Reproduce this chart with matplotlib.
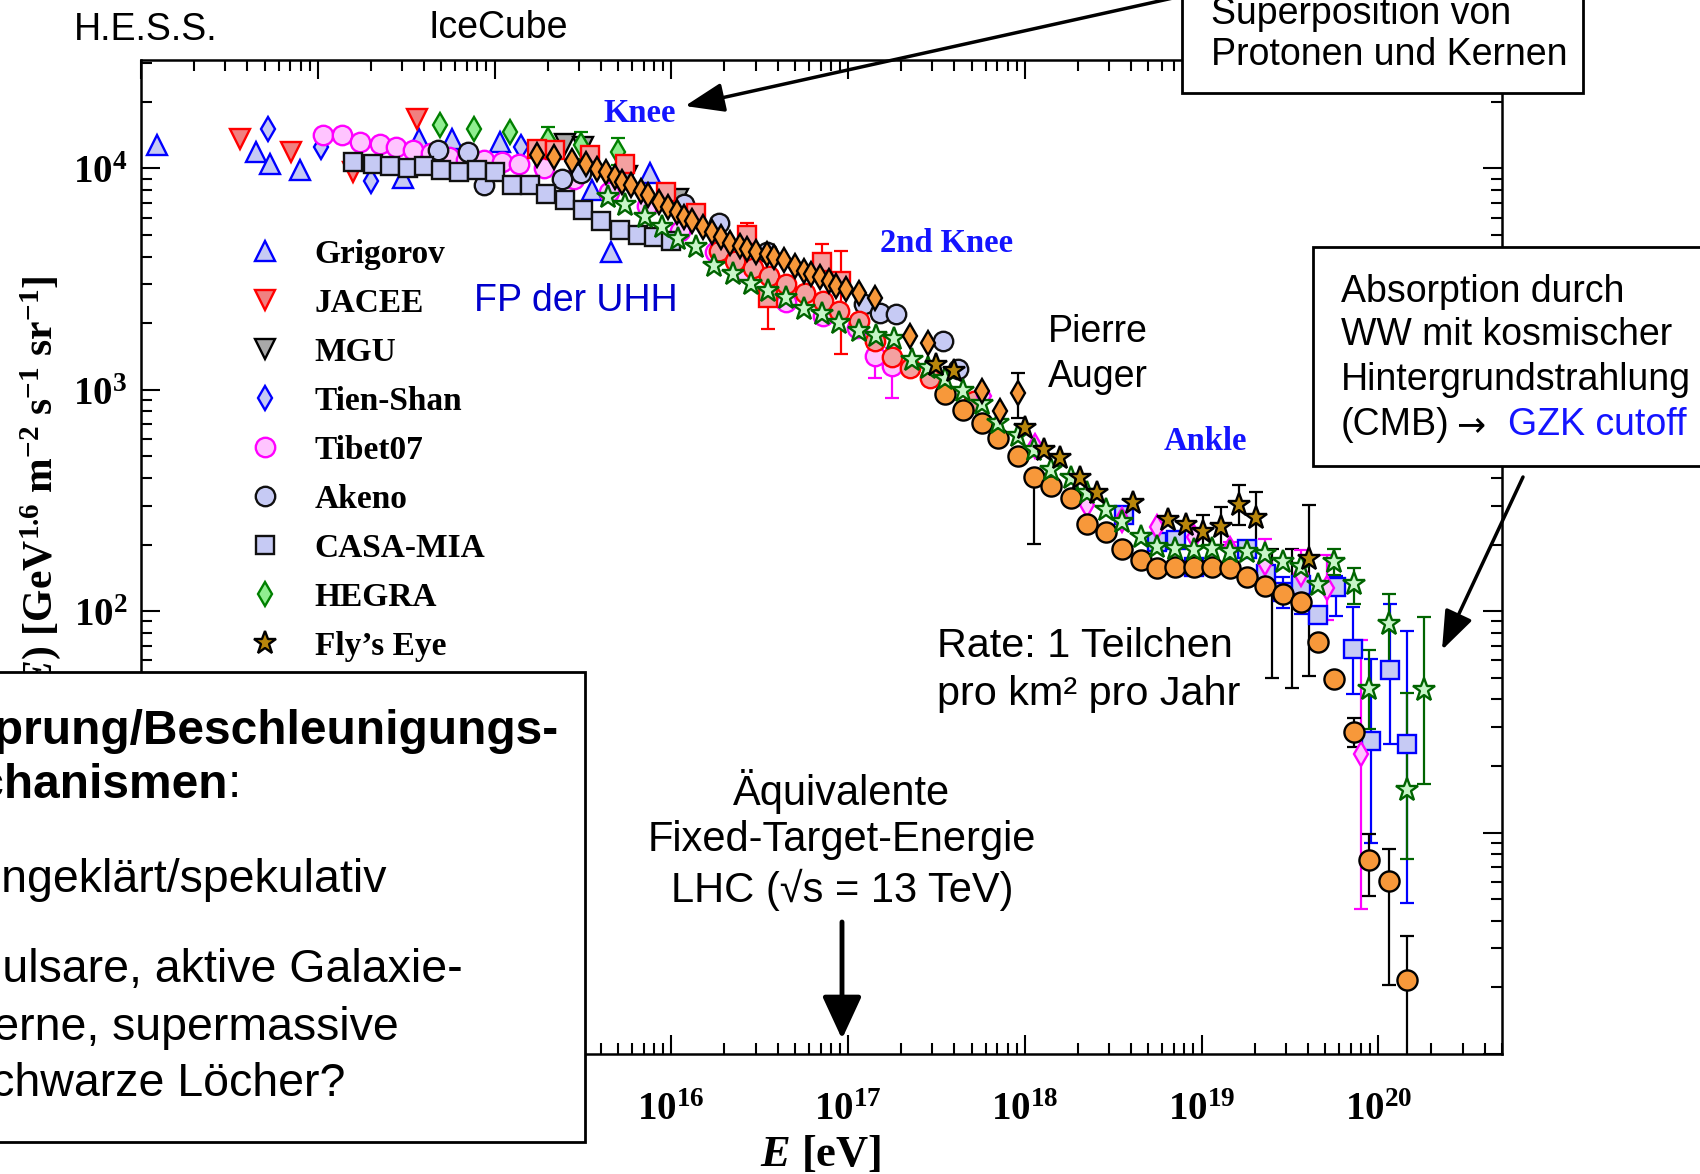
import numpy as np
import matplotlib
matplotlib.use("Agg")
import matplotlib.pyplot as plt
from matplotlib.patches import Rectangle, FancyArrowPatch
from matplotlib.ticker import LogLocator, FuncFormatter, NullFormatter

plt.rcParams['mathtext.fontset'] = 'custom'
plt.rcParams['mathtext.rm'] = 'Liberation Serif:bold'
plt.rcParams['mathtext.bf'] = 'Liberation Serif:bold'
plt.rcParams['mathtext.it'] = 'Liberation Serif:italic:bold'

SANS = ['Liberation Sans', 'DejaVu Sans']
SERIF = ['Liberation Serif', 'DejaVu Serif']

# ---------------- data (log10 E[eV], E^2.6 F(E) [GeV^1.6 m^-2 s^-1 sr^-1]) ----------------
grigorov_logE = [13.09, 13.65, 13.73, 13.90, 14.48, 14.57, 14.76, 15.03, 15.55, 15.66, 15.88]
grigorov_flux = [12700, 11900, 10500, 9800, 9100, 13600, 13600, 13200, 8000, 4200, 9500]

jacee_logE = [13.56, 13.85, 14.20, 14.56]
jacee_flux = [13600, 11900, 9600, 16800]

mgu_logE = [15.40, 15.50, 15.75, 16.04]
mgu_flux = [12900, 12500, 9200, 7300]

tienshan_logE = [13.72, 14.02, 14.30, 15.15]
tienshan_flux = [15100, 12500, 8800, 12500]

tibet_logE = [14.03, 14.135, 14.24, 14.35, 14.44, 14.54, 14.64, 14.74, 14.84, 14.94, 15.04,
              15.14, 15.28, 15.45, 15.65, 15.86, 16.05, 16.25, 16.42, 16.65, 16.86, 17.05,
              17.15, 17.25]
tibet_flux = [14100, 14100, 13200, 12900, 12500, 12100, 11700, 11300, 10900, 10900, 10700,
              10500, 10000, 9000, 7800, 6800, 5200, 4200, 3400, 2500, 2150, 1900, 1420, 1280]

akeno_logE = [14.68, 14.85, 14.94, 15.38, 15.49, 16.07, 16.27, 16.54, 17.09, 17.18, 17.27,
              17.54, 17.62]
akeno_flux = [12100, 11900, 8400, 9000, 9500, 6900, 5700, 4200, 2440, 2230, 2200, 1660, 1240]

casa_logE = [14.20, 14.31, 14.41, 14.51, 14.60, 14.70, 14.80, 14.90, 15.00, 15.10, 15.20,
             15.29, 15.40, 15.50, 15.60, 15.71, 15.81, 15.90, 16.00]
casa_flux = [10700, 10500, 10300, 10100, 10300, 9800, 9600, 9800, 9600, 8400, 8400, 7700,
             7200, 6500, 5800, 5300, 5000, 4900, 4700]

hegra_logE = [14.69, 14.885, 15.09, 15.30, 15.49, 15.70]
hegra_flux = [15700, 15100, 14600, 13400, 12700, 11900]

flyseye_logE = [17.50, 17.60, 18.00, 18.11, 18.20, 18.31, 18.41, 18.61, 18.81, 18.91, 19.01,
                19.11, 19.21, 19.31, 19.61]
flyseye_flux = [1300, 1220, 673, 537, 492, 399, 341, 308, 258, 245, 229, 241, 302, 265, 173]

kascade_logE = [15.24, 15.345, 15.54, 15.74, 15.97, 16.14, 16.43, 16.545, 16.85, 16.96]
kascade_flux = [12300, 12100, 11500, 10500, 7800, 6300, 5000, 2600, 3800, 3100]

kgrande_logE = [16.27, 16.36, 16.46, 16.555, 16.65, 16.755, 16.86, 16.95, 17.06, 17.15,
                17.25, 17.35, 17.465, 17.71]
kgrande_flux = [4250, 3830, 3570, 3270, 3000, 2750, 2520, 2270, 2050, 1660, 1410, 1260, 1130,
                890]

icetop_logE = [15.24, 15.335, 15.44, 15.52, 15.58, 15.63, 15.68, 15.72, 15.77, 15.83, 15.87,
               15.93, 15.98, 16.03, 16.07, 16.12, 16.18, 16.23, 16.28, 16.33, 16.39, 16.43,
               16.48, 16.54, 16.58, 16.64, 16.70, 16.75, 16.79, 16.84, 16.89, 16.93, 16.99,
               17.06, 17.15, 17.35, 17.45, 17.76, 17.86, 17.96]
icetop_flux = [11460, 11250, 10860, 10500, 9950, 9620, 9140, 8670, 8380, 7940, 7550, 7050,
               6680, 6340, 6030, 5820, 5420, 5150, 4890, 4630, 4480, 4330, 4180, 4110, 3970,
               3840, 3640, 3450, 3330, 3220, 3110, 2950, 2850, 2750, 2610, 1750, 1630, 986,
               800, 968]

hires1_logE = [17.77, 18.06, 18.35, 18.55, 18.75, 18.96, 19.16, 19.36, 19.56, 19.71, 19.90]
hires1_flux = [938, 556, 302, 257, 241, 217, 191, 166, 148, 127, 22.6]

hires2_logE = [18.56, 18.75, 18.854, 18.958, 19.26, 19.364, 19.459, 19.563, 19.658, 19.762,
               19.856, 19.96, 20.064, 20.16]
hires2_flux = [272, 206, 210, 158, 192, 148, 122, 131, 96, 129, 67.6, 26, 54, 25.1]

ta_logE = [15.64, 15.74, 15.85, 15.95, 16.04, 16.14, 16.24, 16.35, 16.45, 16.55, 16.65, 16.75,
           16.85, 16.95, 17.06, 17.16, 17.26, 17.36, 17.45, 17.55, 17.65, 17.76, 17.85, 17.96,
           18.05, 18.15, 18.26, 18.35, 18.46, 18.55, 18.66, 18.75, 18.85, 18.96, 19.06, 19.16,
           19.26, 19.36, 19.46, 19.56, 19.66, 19.75, 19.86, 19.95, 20.06, 20.16, 20.26]
ta_flux = [7410, 6810, 6030, 5420, 4810, 4410, 3640, 3330, 3010, 2800, 2610, 2310, 2200, 2010,
           1850, 1750, 1690, 1370, 1250, 1120, 986, 859, 708, 617, 537, 436, 399, 341, 287,
           254, 217, 196, 192, 189, 192, 186, 186, 181, 167, 159, 131, 167, 133, 44.7, 88,
           15.5, 43.9]

auger_logE = [17.55, 17.65, 17.76, 17.85, 17.96, 18.05, 18.15, 18.26, 18.35, 18.46, 18.55,
              18.66, 18.75, 18.85, 18.96, 19.06, 19.16, 19.26, 19.36, 19.46, 19.56, 19.66,
              19.75, 19.86, 19.95, 20.06, 20.16]
auger_flux = [953, 815, 708, 605, 500, 406, 366, 324, 249, 229, 192, 170, 156, 159, 159, 159,
              156, 143, 130, 120, 110, 72.6, 49.4, 28.6, 7.55, 6.03, 2.16]

# error bars: log10 E, lower end, upper end
tibet_err = ([17.15, 17.25], [1130, 920], [1720, 1550])
hegra_err = ([15.30, 15.49, 15.70], [11650, 11050, 10350], [15400, 14600, 13700])
kascade_err = ([16.43, 16.545, 16.85, 16.96], [4300, 1880, 3100, 1450], [5700, 3200, 4560, 4250])
icetop_err = ([17.96], [747], [1190])
flyseye_err = ([19.01, 19.11, 19.21, 19.31, 19.40, 19.51, 19.61],
               [195, 200, 245, 186, 50, 45, 51], [272, 297, 372, 347, 192, 192, 302])
hires1_err = ([19.16, 19.36, 19.56, 19.71, 19.90], [165, 140, 125, 91, 4.5], [206, 213, 189, 180, 74])
hires2_err = ([19.459, 19.563, 19.762, 19.856, 19.96, 20.064, 20.16],
              [103, 97.5, 95.5, 42.4, 9.0, 25.1, 4.8], [143, 141, 145, 105, 61, 108, 81])
ta_err = ([19.75, 19.86, 19.95, 20.06, 20.16, 20.26], [146, 108, 29.4, 56, 7.6, 16.6],
          [192, 156, 66.5, 120, 42.7, 94.2])
auger_err = ([18.05, 19.86, 19.95, 20.06, 20.16], [202, 24.3, 5.16, 2.05, 0.5],
             [436, 33.1, 9.82, 8.39, 3.4])

legend_labels = ['Grigorov', 'JACEE', 'MGU', 'Tien-Shan', 'Tibet07', 'Akeno', 'CASA-MIA',
                 'HEGRA', 'Fly\u2019s Eye']

# ---------------- figure ----------------
W, H = 1700, 1174
fig = plt.figure(figsize=(W / 100, H / 100), dpi=100)
fig.patch.set_facecolor('white')


def fx(x):
    return x / W


def fy(y):
    return 1 - y / H


ax = fig.add_axes([fx(141), fy(1054), (1502 - 141) / W, (1054 - 60) / H])
ax.set_xscale('log')
ax.set_yscale('log')
ax.set_xlim(1e13, 10 ** 20.7)
ax.set_ylim(1, 10 ** 4.49)

BLUEFILL = '#C6CAF4'
PINK = '#F4A0A0'
ORANGE = '#F7983A'

series = [
    ('Grigorov', grigorov_logE, grigorov_flux, '^', 15, BLUEFILL, '#0000FF', 3),
    ('JACEE', jacee_logE, jacee_flux, 'v', 15, '#F08080', '#FF0000', 3),
    ('MGU', mgu_logE, mgu_flux, 'v', 15, '#A8A8A8', '#000000', 3),
    ('Tien-Shan', tienshan_logE, tienshan_flux, 'd', 12, BLUEFILL, '#0000FF', 3),
    ('Tibet07', tibet_logE, tibet_flux, 'o', 14, '#FFC4FF', '#FF00FF', 3),
    ('Akeno', akeno_logE, akeno_flux, 'o', 14, BLUEFILL, '#101010', 4),
    ('CASA-MIA', casa_logE, casa_flux, 's', 13, BLUEFILL, '#101010', 4),
    ('HEGRA', hegra_logE, hegra_flux, 'd', 12, '#90EE90', '#008000', 3),
    ('Fly\u2019s Eye', flyseye_logE, flyseye_flux, '*', 17, '#B8860B', '#000000', 9),
    ('Kascade', kascade_logE, kascade_flux, 's', 13, PINK, '#FF0000', 4),
    ('Kascade Grande', kgrande_logE, kgrande_flux, 'o', 14, PINK, '#FF0000', 4),
    ('HiRes 2', hires2_logE, hires2_flux, 's', 13, BLUEFILL, '#0000FF', 5),
    ('HiRes 1', hires1_logE, hires1_flux, 'd', 12, '#FFC4FF', '#FF00FF', 6),
    ('Auger', auger_logE, auger_flux, 'o', 14.5, ORANGE, '#000000', 6),
    ('Telescope Array', ta_logE, ta_flux, '*', 17, '#C8F5C8', '#006400', 7),
    ('IceTop', icetop_logE, icetop_flux, 'd', 12, ORANGE, '#000000', 8),
]

errs = [
    (tibet_err, '#FF00FF'), (hegra_err, '#008000'), (kascade_err, '#FF0000'),
    (icetop_err, '#000000'), (flyseye_err, '#000000'), (hires1_err, '#FF00FF'),
    (hires2_err, '#0000FF'), (ta_err, '#006400'), (auger_err, '#000000'),
]
for (le, lo, hi), col in errs:
    le = np.array(le)
    lo = np.array(lo, dtype=float)
    hi = np.array(hi, dtype=float)
    ax.errorbar(10 ** le, lo, yerr=[np.zeros_like(lo), hi - lo], fmt='none', ecolor=col,
                elinewidth=1.6, capsize=5, capthick=1.6, zorder=2)

handles = {}
for name, le, fl, mk, ms, fc, ec, z in series:
    ln, = ax.plot(10 ** np.array(le), fl, ls='none', marker=mk, ms=ms, mfc=fc, mec=ec,
                  mew=1.7, zorder=z)
    handles[name] = ln

# axes styling
for sp in ax.spines.values():
    sp.set_linewidth(1.8)
ax.xaxis.set_major_locator(LogLocator(base=10, numticks=30))
ax.xaxis.set_minor_locator(LogLocator(base=10, subs=np.arange(2, 10), numticks=30))
ax.yaxis.set_major_locator(LogLocator(base=10, numticks=30))
ax.yaxis.set_minor_locator(LogLocator(base=10, subs=np.arange(2, 10), numticks=30))
fmt = FuncFormatter(lambda v, p: r'$10^{%d}$' % int(round(np.log10(v))))
ax.xaxis.set_major_formatter(fmt)
ax.yaxis.set_major_formatter(fmt)
ax.xaxis.set_minor_formatter(NullFormatter())
ax.yaxis.set_minor_formatter(NullFormatter())
ax.tick_params(which='both', direction='in', top=True, right=True, width=1.5)
ax.tick_params(which='major', length=14, labelsize=28)
ax.tick_params(which='minor', length=8)
ax.tick_params(axis='x', which='major', pad=26)
ax.tick_params(axis='y', which='major', pad=10)

leg = ax.legend([handles[n] for n in legend_labels], legend_labels, loc='upper left',
                bbox_to_anchor=(fx(248), fy(239)), bbox_transform=fig.transFigure,
                frameon=False, prop=dict(family=SERIF, weight='bold', size=24),
                handlelength=1.0, handletextpad=1.0, labelspacing=0.54, borderpad=0,
                borderaxespad=0, numpoints=1, markerscale=1.0)

# axis labels
fig.text(fx(821), fy(1155), r'$E$ [eV]', ha='center', va='center', fontsize=32,
         family=SERIF, weight='bold')
fig.text(fx(41), fy(276), r'$E^{2.6}$ F($E$) [GeV$^{1.6}$ m$^{-2}$ s$^{-1}$ sr$^{-1}$]',
         rotation=90, ha='center', va='top', fontsize=30, family=SERIF, weight='bold')


# annotation labels
def stext(x, y, s, size=27, color='black', ha='left', weight='normal', family=SANS, z=12):
    return fig.text(fx(x), fy(y), s, ha=ha, va='center', fontsize=size, color=color,
                    family=family, weight=weight, zorder=z)


stext(74, 30, 'H.E.S.S.')
stext(428, 28, 'IceCube')
stext(640, 114, 'Knee', size=23.5, color='#1414FF', ha='center', weight='bold', family=SERIF)
stext(947, 243, '2nd Knee', size=23.5, color='#1414FF', ha='center', weight='bold', family=SERIF)
stext(1205, 442, 'Ankle', size=23.5, color='#1414FF', ha='center', weight='bold', family=SERIF)
stext(474, 301, 'FP der UHH', color='#0000CC')
stext(1048, 332, 'Pierre')
stext(1048, 377, 'Auger')
stext(937, 646, 'Rate: 1 Teilchen', size=29.8)
stext(937, 694, 'pro km\u00b2 pro Jahr', size=29.8)
stext(842, 791, '\u00c4quivalente', size=30, ha='center')
stext(842, 840, 'Fixed-Target-Energie', size=30, ha='center')
stext(842, 890, 'LHC (\u221as = 13 TeV)', size=30, ha='center')


# boxes
def box(x0, y0, x1, y1):
    r = Rectangle((fx(x0), fy(y1)), (x1 - x0) / W, (y1 - y0) / H, transform=fig.transFigure,
                  facecolor='white', edgecolor='black', lw=2.0, zorder=10)
    fig.add_artist(r)


box(-20, 672, 585, 1142)
box(1182, -20, 1583, 93)
box(1313, 247, 1720, 466)

stext(1211, 14, 'Superposition von')
stext(1211, 55, 'Protonen und Kernen')
stext(1341, 292, 'Absorption durch')
stext(1341, 335, 'WW mit kosmischer')
stext(1341, 380, 'Hintergrundstrahlung')
stext(1341, 425, '(CMB)')
stext(1456, 425, '\u2192', family=['DejaVu Sans'], size=25)
stext(1508, 425, 'GZK cutoff', color='#1414FF')

stext(558, 731, 'Ursprung/Beschleunigungs-', size=34.5, ha='right', weight='bold')
stext(228, 785, 'mechanismen', size=34.5, ha='right', weight='bold')
stext(241, 785, ':', size=34, ha='right')
stext(387, 880, '\u2022 ungekl\u00e4rt/spekulativ', size=33.5, ha='right')
stext(463, 970, '\u2022 Pulsare, aktive Galaxie-', size=33.5, ha='right')
stext(399, 1028, 'kerne, supermassive', size=33.5, ha='right')
stext(345, 1084, 'schwarze L\u00f6cher?', size=33.5, ha='right')


# arrows
def arrow(x0, y0, x1, y1, lw=2.5, hl=1.2, hw=0.45, ms=20):
    a = FancyArrowPatch((fx(x0), fy(y0)), (fx(x1), fy(y1)), transform=fig.transFigure,
                        arrowstyle='-|>,head_length=%g,head_width=%g' % (hl, hw),
                        mutation_scale=ms, lw=lw, color='black', zorder=13,
                        shrinkA=0, shrinkB=0)
    fig.add_artist(a)


arrow(1182, -4, 685, 106)
arrow(1523, 477, 1442, 650)
arrow(842, 922, 842, 1039, lw=3.5, hl=1.3, hw=0.6)

fig.savefig('out.png', dpi=100, facecolor='white')
